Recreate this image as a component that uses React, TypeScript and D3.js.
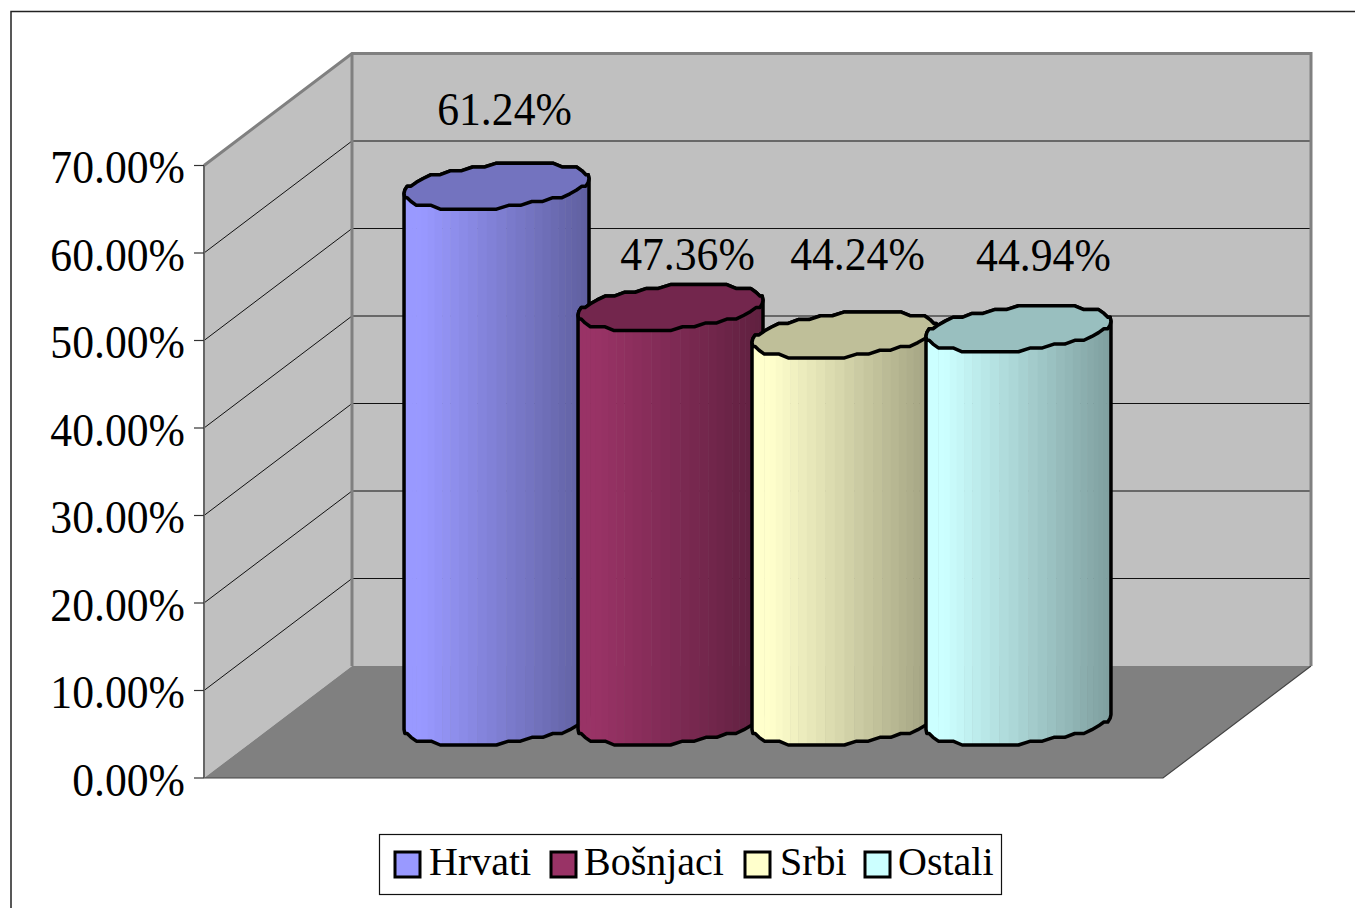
import { useRef, useEffect } from 'react';
import * as d3 from 'd3';

const groups = ['Hrvati', 'Bošnjaci', 'Srbi', 'Ostali'];
const values = [61.24, 47.36, 44.24, 44.94];
const colors = ['#9999FF', '#993366', '#FFFFCC', '#CCFFFF'];
const axisTicks = [0, 10, 20, 30, 40, 50, 60, 70];

// hand-placed labels in the original, offset from the top of each cylinder
const labelNudgeX = [8, 17, 13, 25];
const labelNudgeY = [-61, -38, -65, -58];
const legendSwatchX = [394, 550, 744, 864];
const legendTextX = [429, 584, 780, 898];

const WIDTH = 1355;
const HEIGHT = 908;
const depth = { x: 148, y: -112 };
const FONT = '"Liberation Serif", serif';

export default function App() {
  const svgRef = useRef<SVGSVGElement>(null);

  useEffect(() => {
    const svg = d3.select(svgRef.current);
    svg.selectAll('*').remove();

    const y = d3.scaleLinear().domain([0, 70]).range([778, 165.5]);
    const x = d3
      .scaleBand()
      .domain(groups)
      .range([204, 1163])
      .paddingInner(0)
      .paddingOuter(0.756);
    const left = 204;
    const right = 1163;
    const line = d3.line();

    // frame, only top and left are visible
    svg
      .append('path')
      .attr('d', `M11,${HEIGHT}V11.5H${WIDTH}`)
      .attr('fill', 'none')
      .attr('stroke', '#222')
      .attr('stroke-width', 1.5);

    // walls and floor
    const y0 = y(0);
    const yTop = y(70);
    svg
      .append('path')
      .attr(
        'd',
        line([
          [left, yTop],
          [left + depth.x, yTop + depth.y],
          [left + depth.x, y0 + depth.y],
          [left, y0],
        ]),
      )
      .attr('fill', '#C0C0C0');
    svg
      .append('rect')
      .attr('x', left + depth.x)
      .attr('y', yTop + depth.y)
      .attr('width', right - left + 1)
      .attr('height', y0 - yTop)
      .attr('fill', '#C0C0C0');
    svg
      .append('path')
      .attr(
        'd',
        line([
          [left, y0],
          [left + depth.x, y0 + depth.y],
          [right + depth.x, y0 + depth.y],
          [right, y0],
        ]),
      )
      .attr('fill', '#808080');
    svg
      .append('path')
      .attr(
        'd',
        line([
          [left, y0],
          [right, y0],
          [right + depth.x, y0 + depth.y],
        ]),
      )
      .attr('fill', 'none')
      .attr('stroke', '#444')
      .attr('stroke-width', 1.2);

    // gridlines
    const grid = svg.append('g');
    axisTicks
      .filter(d => d > 0 && d < 70)
      .forEach(d => {
        grid
          .append('path')
          .attr(
            'd',
            line([
              [left, y(d)],
              [left + depth.x, y(d) + depth.y],
              [right + depth.x, y(d) + depth.y],
            ]),
          )
          .attr('fill', 'none')
          .attr('stroke', '#111')
          .attr('stroke-width', 1);
      });

    // wall borders
    svg
      .append('path')
      .attr(
        'd',
        line([
          [left, yTop],
          [left + depth.x, yTop + depth.y],
          [right + depth.x, yTop + depth.y],
          [right + depth.x, y0 + depth.y],
        ]),
      )
      .attr('fill', 'none')
      .attr('stroke', '#808080')
      .attr('stroke-width', 3);
    svg
      .append('path')
      .attr(
        'd',
        line([
          [left + depth.x, yTop + depth.y],
          [left + depth.x, y0 + depth.y],
        ]),
      )
      .attr('stroke', '#808080')
      .attr('stroke-width', 3);
    svg
      .append('path')
      .attr(
        'd',
        line([
          [left, yTop],
          [left, y0],
        ]),
      )
      .attr('stroke', '#666')
      .attr('stroke-width', 2);

    // axis ticks and labels
    const axis = svg.append('g');
    axisTicks.forEach(d => {
      axis
        .append('path')
        .attr('d', `M${left - 10},${y(d)}H${left}`)
        .attr('stroke', '#333')
        .attr('stroke-width', 1.2);
      axis
        .append('text')
        .attr('transform', `translate(185,${y(d) + 17.5}) scale(0.95,1)`)
        .attr('text-anchor', 'end')
        .style('font', `46px ${FONT}`)
        .text(`${d.toFixed(2)}%`);
    });

    // cylinders
    const R = x.bandwidth() / 2 + 5.5;
    const tiltX = 30;
    const tiltY = -23;
    const step = 23 / 6;
    const phase = Math.atan2(tiltX, Math.sqrt(R * R - tiltX * tiltX));
    const rim = (cx: number, cy: number, from: number, to: number, n: number) =>
      d3.range(n + 1).map(i => {
        const a = from + ((to - from) * i) / n;
        const py = tiltY * Math.sin(a + phase);
        // the source outline is a coarse polygon, so snap the rim to steps
        const snapped = i === 0 || i === n ? py : Math.round(py / step) * step;
        return [cx + R * Math.cos(a), cy + snapped] as [number, number];
      });

    const baseY = y0 + depth.y / 2;
    const bars = svg.append('g');
    groups.forEach((g, i) => {
      const cx = (x(g) as number) + x.bandwidth() / 2 + depth.x / 2;
      const topY = y(values[i]) + depth.y / 2;
      const baseCol = colors[i];
      const darkCol = d3.rgb(baseCol).darker(1.35).formatHex();
      const capCol = d3.interpolateRgb(baseCol, '#000')(0.25);

      const upper = rim(cx, topY, Math.PI, 0, 24);
      const lower = rim(cx, topY, Math.PI, 2 * Math.PI, 24);
      const baseLower = rim(cx, baseY, Math.PI, 2 * Math.PI, 24);
      const outline = [...upper, ...baseLower.slice().reverse()];

      const id = `clip-${i}`;
      bars
        .append('clipPath')
        .attr('id', id)
        .append('path')
        .attr('d', line(outline) + 'Z');

      const body = bars.append('g').attr('clip-path', `url(#${id})`);
      const nStrips = 30;
      d3.range(nStrips).forEach(s => {
        const a0 = Math.PI - (Math.PI * s) / nStrips;
        const a1 = Math.PI - (Math.PI * (s + 1)) / nStrips;
        const x0 = cx + R * Math.cos(a0);
        const x1 = cx + R * Math.cos(a1);
        const t = (0.5 * (x0 + x1) - (cx - R)) / (2 * R);
        const f = Math.max(0, (t - 0.1) / 0.9);
        body
          .append('rect')
          .attr('x', x0)
          .attr('y', topY - 30)
          .attr('width', x1 - x0 + 0.5)
          .attr('height', baseY - topY + 60)
          .attr('fill', d3.interpolateRgb(baseCol, darkCol)(f));
      });

      bars
        .append('path')
        .attr('d', line(outline) + 'Z')
        .attr('fill', 'none')
        .attr('stroke', '#000')
        .attr('stroke-width', 3.5)
        .attr('stroke-linejoin', 'round');
      bars
        .append('path')
        .attr('d', line([...upper, ...lower.slice().reverse()]) + 'Z')
        .attr('fill', capCol)
        .attr('stroke', '#000')
        .attr('stroke-width', 3.5)
        .attr('stroke-linejoin', 'round');
    });

    // value labels
    groups.forEach((g, i) => {
      const cx = (x(g) as number) + x.bandwidth() / 2 + depth.x / 2;
      svg
        .append('text')
        .attr(
          'transform',
          `translate(${cx + labelNudgeX[i]},${y(values[i]) + depth.y / 2 + labelNudgeY[i]}) scale(0.95,1)`,
        )
        .attr('text-anchor', 'middle')
        .style('font', `46px ${FONT}`)
        .text(`${values[i].toFixed(2)}%`);
    });

    // legend
    const legend = svg.append('g');
    legend
      .append('rect')
      .attr('x', 379.5)
      .attr('y', 834.5)
      .attr('width', 622)
      .attr('height', 60)
      .attr('fill', '#fff')
      .attr('stroke', '#111')
      .attr('stroke-width', 1.2);
    groups.forEach((g, i) => {
      legend
        .append('rect')
        .attr('x', legendSwatchX[i] + 1)
        .attr('y', 852)
        .attr('width', 25)
        .attr('height', 25)
        .attr('fill', colors[i])
        .attr('stroke', '#000')
        .attr('stroke-width', 3);
      legend
        .append('text')
        .attr('x', legendTextX[i])
        .attr('y', 875)
        .style('font', `40px ${FONT}`)
        .text(g);
    });
  }, []);

  return (
    <svg
      ref={svgRef}
      width={WIDTH}
      height={HEIGHT}
      style={{ position: 'absolute', left: 0, top: 0, background: '#fff' }}
    />
  );
}
